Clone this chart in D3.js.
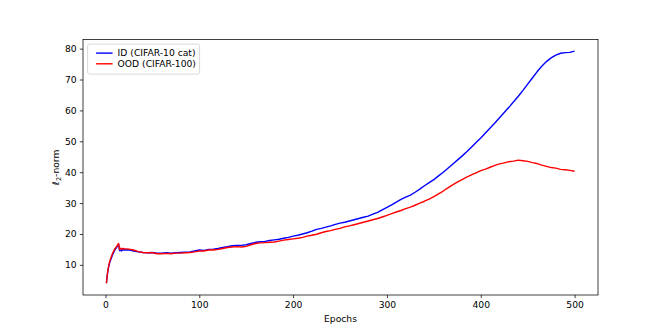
<!DOCTYPE html>
<html>
<head>
<meta charset="utf-8">
<script src="https://cdn.jsdelivr.net/npm/d3@7"></script>
<style>
  body { margin: 0; background: #fff; }
  text { font-family: "DejaVu Sans", sans-serif; }
</style>
</head>
<body>
<svg class="chart" width="664" height="332"></svg>
<script>
const epochs = [1,2,3,4,5,6,7,8,9,10,11,12,13,14,15,16,17,18,20,
  25,30,35,40,45,50,55,60,65,70,75,80,85,90,95,100,
  105,110,115,120,125,130,135,140,145,150,155,160,165,170,175,180,185,190,195,200,
  205,210,215,220,225,230,235,240,245,250,255,260,265,270,275,280,285,290,295,300,
  305,310,315,320,325,330,335,340,345,350,355,360,365,370,375,380,385,390,395,400,
  405,410,415,420,425,430,435,440,445,450,455,460,465,470,475,480,485,490,495,500]

const idValues = [4.2,6.8,8.8,10.2,11.2,12.0,12.8,13.5,14.2,14.8,15.3,15.7,16.2,16.6,14.6,14.8,14.5,14.9,14.8,
  14.9,14.5,14.2,14.0,13.9,14.0,13.8,13.8,13.9,13.8,13.9,14.0,14.1,14.2,14.5,14.8,
  14.7,15.0,15.1,15.3,15.6,15.9,16.2,16.3,16.3,16.5,16.9,17.3,17.5,17.6,17.9,18.1,18.3,18.6,18.9,19.3,
  19.6,20.0,20.4,20.9,21.5,21.8,22.2,22.6,23.1,23.5,23.8,24.2,24.6,25.0,25.4,25.8,26.4,27.0,27.8,28.6,
  29.4,30.3,31.2,31.9,32.6,33.5,34.5,35.6,36.6,37.6,38.8,40.0,41.3,42.6,43.9,45.2,46.6,48.1,49.6,51.1,
  52.7,54.3,55.9,57.6,59.3,61.0,62.8,64.6,66.5,68.5,70.5,72.5,74.3,75.8,77.0,77.9,78.5,78.7,78.8,79.2]

const oodValues = [4.0,7.0,9.0,10.5,11.6,12.5,13.3,14.0,14.6,15.2,15.6,16.0,16.5,16.9,15.0,15.4,15.0,15.3,15.2,
  15.1,14.8,14.3,14.0,13.9,13.9,13.6,13.6,13.7,13.6,13.8,13.8,13.9,14.0,14.2,14.5,
  14.5,14.8,14.8,15.0,15.3,15.6,15.8,15.9,15.8,16.0,16.5,16.9,17.1,17.2,17.3,17.4,17.7,18.0,18.2,18.4,
  18.6,18.9,19.3,19.6,19.9,20.4,20.8,21.1,21.5,21.8,22.3,22.6,23.0,23.4,23.8,24.2,24.6,25.0,25.5,26.0,
  26.6,27.1,27.6,28.2,28.7,29.3,30.0,30.6,31.3,32.1,33.0,33.9,34.9,35.9,36.8,37.6,38.4,39.1,39.8,40.5,
  41.0,41.6,42.2,42.7,43.0,43.4,43.6,43.9,43.7,43.5,43.1,42.8,42.3,41.9,41.5,41.3,40.9,40.8,40.6,40.3]

const xTicks = [0,100,200,300,400,500]
const yTicks = [10,20,30,40,50,60,70,80]

const series = [
  {name:'ID (CIFAR-10 cat)', values:idValues, color:'#0000ff'},
  {name:'OOD (CIFAR-100)', values:oodValues, color:'#ff0000'}
]

const svg = d3.select('.chart')
const width = +svg.attr('width')
const height = +svg.attr('height')
const margin = {top:39.5,bottom:37,left:83,right:66}
const innerWidth = width-margin.left-margin.right
const innerHeight = height-margin.top-margin.bottom

svg.append('rect').attr('width',width).attr('height',height).attr('fill','#fff')

// matplotlib style 5% padding around the data
const allVals = idValues.concat(oodValues)
const xMin = d3.min(epochs), xMax = d3.max(epochs)
const yMin = d3.min(allVals), yMax = d3.max(allVals)
const xPad = (xMax-xMin)*0.05, yPad = (yMax-yMin)*0.05

const xScale = d3.scaleLinear()
  .domain([xMin-xPad, xMax+xPad])
  .range([0,innerWidth])

const yScale = d3.scaleLinear()
  .domain([yMin-yPad, yMax+yPad])
  .range([innerHeight,0])

const g = svg.append('g')
  .attr('transform',`translate(${margin.left},${margin.top})`)

const line = d3.line()
  .x((d,i)=>xScale(epochs[i]))
  .y(d=>yScale(d))

series.forEach(s=>{
  g.append('path')
    .datum(s.values)
    .attr('d',line)
    .attr('fill','none')
    .attr('stroke',s.color)
    .attr('stroke-width',1.4)
    .attr('stroke-linejoin','round')
})

const xAxis = g.append('g')
  .attr('transform',`translate(0,${innerHeight})`)
  .call(d3.axisBottom(xScale).tickValues(xTicks).tickSize(3.2).tickPadding(3.2).tickFormat(d3.format('d')))
const yAxis = g.append('g')
  .call(d3.axisLeft(yScale).tickValues(yTicks).tickSize(3.2).tickPadding(3.2).tickFormat(d3.format('d')))

;[xAxis,yAxis].forEach(a=>{
  a.select('.domain').remove()
  a.selectAll('.tick line').attr('stroke','#000').attr('stroke-width',0.75)
  a.selectAll('.tick text').attr('fill','#000').style('font-size','9.2px').style('font-family','DejaVu Sans')
})

g.append('rect')
  .attr('width',innerWidth)
  .attr('height',innerHeight)
  .attr('fill','none')
  .attr('stroke','#000')
  .attr('stroke-width',0.75)

g.append('text')
  .attr('x',innerWidth/2)
  .attr('y',innerHeight+27)
  .attr('text-anchor','middle')
  .style('font-size','9.2px')
  .text('Epochs')

const ylab = g.append('text')
  .attr('transform',`translate(-24,${innerHeight/2}) rotate(-90)`)
  .attr('text-anchor','middle')
  .style('font-size','9.2px')
ylab.append('tspan').style('font-style','italic').text('ℓ')
ylab.append('tspan').attr('dy',2).style('font-size','6.5px').text('2')
ylab.append('tspan').attr('dy',-2).text('-norm')

// legend
const legend = g.append('g').attr('transform','translate(4.6,4.6)')
legend.append('rect')
  .attr('width',112).attr('height',30)
  .attr('rx',2)
  .attr('fill','#fff').attr('fill-opacity',0.8)
  .attr('stroke','#ccc').attr('stroke-width',0.75)

series.forEach((s,i)=>{
  const row = legend.append('g').attr('transform',`translate(0,${9+i*10.7})`)
  row.append('line')
    .attr('x1',8.5).attr('x2',25)
    .attr('stroke',s.color).attr('stroke-width',1.4)
  row.append('text')
    .attr('x',30).attr('dy','0.35em')
    .style('font-size','9.2px')
    .text(s.name)
})
</script>
</body>
</html>
